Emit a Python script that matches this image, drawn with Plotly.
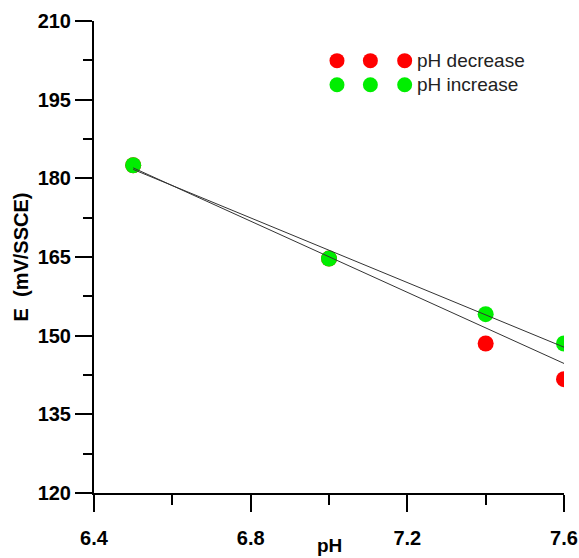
import plotly.graph_objects as go

# Data
ph = [6.5, 7.0, 7.4, 7.6]
e_decrease = [182.5, 164.7, 148.5, 141.7]
e_increase = [182.5, 164.7, 154.1, 148.5]

# fitted lines (end points)
fit_ph = [6.5, 7.6]
fit_decrease = [182.0, 144.7]
fit_increase = [181.7, 147.8]

series_names = ["pH decrease", "pH increase"]
series_colors = ["#ff0000", "#00ee00"]

fig = go.Figure()
fig.add_trace(go.Scatter(x=ph, y=e_decrease, mode="markers",
                         marker=dict(size=16, color=series_colors[0]),
                         name=series_names[0], showlegend=False))
fig.add_trace(go.Scatter(x=ph, y=e_increase, mode="markers",
                         marker=dict(size=16, color=series_colors[1]),
                         name=series_names[1], showlegend=False))
fig.add_trace(go.Scatter(x=fit_ph, y=fit_decrease, mode="lines",
                         line=dict(color="#333333", width=1), showlegend=False))
fig.add_trace(go.Scatter(x=fit_ph, y=fit_increase, mode="lines",
                         line=dict(color="#333333", width=1), showlegend=False))

font_family = "Liberation Sans, Arial, sans-serif"

axis_common = dict(
    showline=True, linecolor="black", linewidth=2,
    ticks="outside", ticklen=17, tickwidth=2, tickcolor="black",
    showgrid=False, zeroline=False, mirror=False, automargin=False,
    tickfont=dict(family=font_family, size=20, color="black", weight="bold"),
)

fig.update_xaxes(range=[6.4, 7.6], tickmode="linear", tick0=6.4, dtick=0.4,
                 tickformat=".1f", ticklabelstandoff=9,
                 minor=dict(ticks="outside", ticklen=10, tickwidth=2, tickcolor="black", dtick=0.2, tick0=6.4),
                 **axis_common)
fig.update_yaxes(range=[120, 210], tickmode="linear", tick0=120, dtick=15,
                 minor=dict(ticks="outside", ticklen=9, tickwidth=2, tickcolor="black", dtick=7.5, tick0=120),
                 title=dict(text="E  (mV/SSCE)", font=dict(family=font_family, size=20, color="black", weight="bold"), standoff=4),
                 **axis_common)

# custom legend: three dots followed by label
legend_dot_x = [0.517, 0.588, 0.661]
legend_y = [0.916, 0.865]
shapes = []
annotations = []
for name, color, ly in zip(series_names, series_colors, legend_y):
    for lx in legend_dot_x:
        shapes.append(dict(type="circle", xref="paper", yref="paper",
                           xsizemode="pixel", ysizemode="pixel",
                           xanchor=lx, yanchor=ly, x0=-7.5, x1=7.5, y0=-7.5, y1=7.5,
                           fillcolor=color, line=dict(width=0)))
    annotations.append(dict(x=0.683, y=ly, xref="paper", yref="paper",
                            text=name, showarrow=False, xanchor="left", yanchor="middle",
                            font=dict(family=font_family, size=19, color="#222222")))

# x axis title
annotations.append(dict(x=0.5, y=0, xref="paper", yref="paper", text="pH",
                        showarrow=False, xanchor="center", yanchor="top", yshift=-40,
                        font=dict(family=font_family, size=19, color="black", weight="bold")))

fig.update_layout(
    width=579, height=558,
    margin=dict(l=93.5, r=15, t=20.5, b=65.3),
    paper_bgcolor="white", plot_bgcolor="white",
    shapes=shapes, annotations=annotations,
    showlegend=False,
)

fig.write_html("out.html")
